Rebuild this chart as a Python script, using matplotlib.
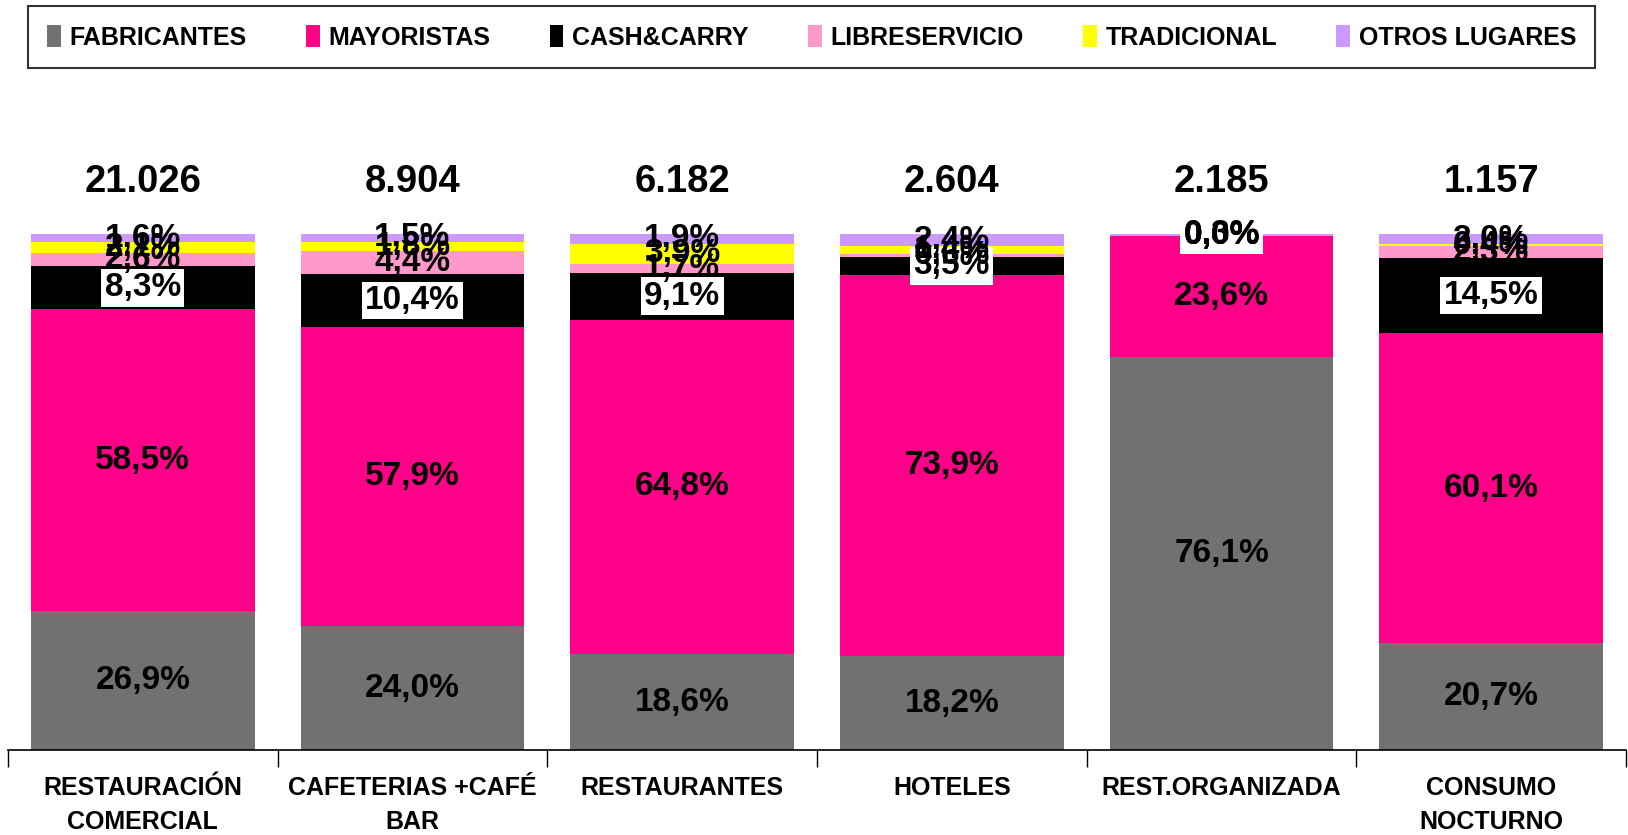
import matplotlib
matplotlib.use("Agg")
import matplotlib.pyplot as plt
import numpy as np

plt.rcParams['font.family'] = ['Liberation Sans', 'DejaVu Sans']

categories = ["RESTAURACIÓN\nCOMERCIAL", "CAFETERIAS +CAFÉ\nBAR", "RESTAURANTES",
              "HOTELES", "REST.ORGANIZADA", "CONSUMO\nNOCTURNO"]
totals = ["21.026", "8.904", "6.182", "2.604", "2.185", "1.157"]
series_names = ["FABRICANTES", "MAYORISTAS", "CASH&CARRY", "LIBRESERVICIO",
                "TRADICIONAL", "OTROS LUGARES"]
fabricantes = [26.9, 24.0, 18.6, 18.2, 76.1, 20.7]
mayoristas = [58.5, 57.9, 64.8, 73.9, 23.6, 60.1]
cash_carry = [8.3, 10.4, 9.1, 3.5, 0.0, 14.5]
libreservicio = [2.6, 4.4, 1.7, 0.6, 0.0, 2.3]
tradicional = [2.1, 1.8, 3.9, 1.4, 0.0, 0.4]
otros = [1.6, 1.5, 1.9, 2.4, 0.3, 2.0]
colors = ["#717171", "#FF0088", "#000000", "#FF99CC", "#FFFF00", "#CC99FF"]

data = [fabricantes, mayoristas, cash_carry, libreservicio, tradicional, otros]

fig = plt.figure(figsize=(16.28, 8.35), dpi=100)
ax = fig.add_axes([0.0049, 0.1018, 0.9939, 0.7416])
x = np.arange(len(categories))
bottom = np.zeros(len(categories))
for si, (vals, col, name) in enumerate(zip(data, colors, series_names)):
    v = np.array(vals)
    ax.bar(x, v, 0.83, bottom=bottom, color=col, label=name, zorder=2)
    for i in range(len(x)):
        yc = bottom[i] + v[i] / 2
        txt = f"{v[i]:.1f}%".replace(".", ",")
        kw = {}
        if si == 2:
            kw['bbox'] = dict(facecolor='white', edgecolor='none', pad=2.5)
        ax.text(x[i], yc, txt, ha='center', va='center', fontsize=24,
                fontweight='bold', color='black', zorder=5, **kw)
    bottom += v

for i, t in enumerate(totals):
    ax.text(x[i], 110, t, ha='center', va='center', fontsize=27.5,
            fontweight='bold', color='black')

ax.set_xlim(-0.5, len(categories) - 0.5)
ax.set_ylim(0, 120)
for s in ['left', 'right', 'top']:
    ax.spines[s].set_visible(False)
ax.spines['bottom'].set_linewidth(1.2)
ax.set_yticks([])
ax.set_xticks(np.arange(-0.5, len(categories)), minor=False)
ax.set_xticklabels([])
ax.tick_params(axis='x', which='major', length=12, width=1.0, direction='out')
ax.set_xticks(x, minor=True)
ax.set_xticklabels(categories, minor=True, fontsize=18, fontweight='bold',
                   linespacing=1.5)
ax.tick_params(axis='x', which='minor', length=0, pad=19)

leg = fig.legend(loc='center', bbox_to_anchor=(0.0172, 0.920, 0.9625, 0.071),
                 mode='expand', ncol=6, frameon=True, fancybox=False,
                 edgecolor='black', handlelength=0.55, handleheight=1.0,
                 handletextpad=0.35, prop={'size': 18, 'weight': 'bold'},
                 borderpad=0.75, borderaxespad=0, columnspacing=2.2,
                 shadow=False)
leg.get_frame().set_linewidth(1.5)

fig.savefig("out.png", dpi=100)
